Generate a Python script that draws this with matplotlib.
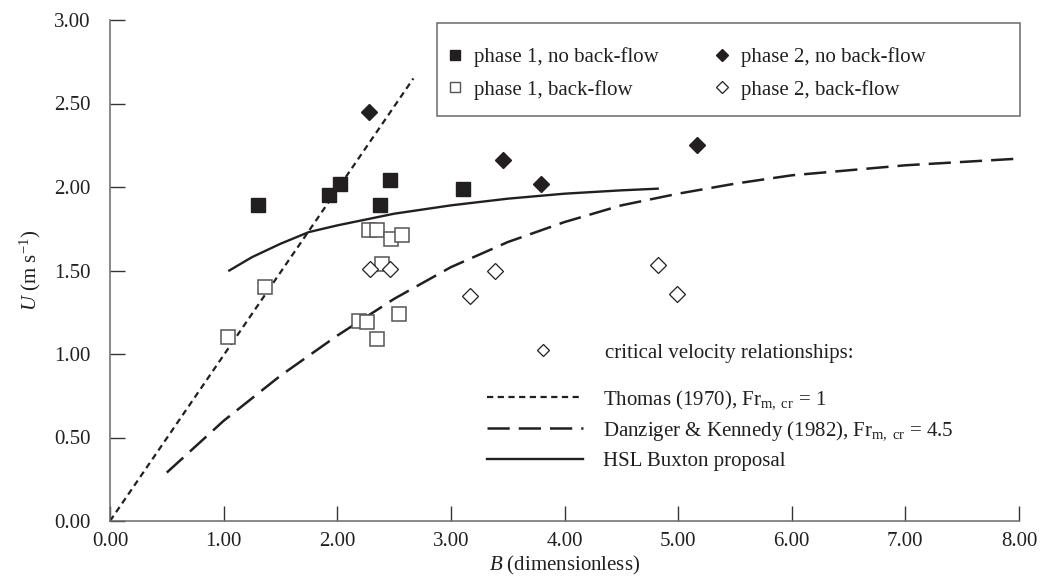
import matplotlib
matplotlib.use("Agg")
import matplotlib.pyplot as plt
from matplotlib.lines import Line2D
from matplotlib.patches import Rectangle

plt.rcParams['font.family'] = ['Liberation Serif', 'DejaVu Serif']
plt.rcParams['mathtext.fontset'] = 'custom'
plt.rcParams['mathtext.rm'] = 'Liberation Serif'
plt.rcParams['mathtext.it'] = 'Liberation Serif:italic'
plt.rcParams['lines.scale_dashes'] = False

# ---- data ----
p1_nobf_B = [1.30, 1.93, 2.02, 2.38, 2.46, 3.11]
p1_nobf_U = [1.89, 1.95, 2.02, 1.89, 2.04, 1.99]

p2_nobf_B = [2.28, 3.46, 3.79, 5.17]
p2_nobf_U = [2.45, 2.16, 2.02, 2.25]

p1_bf_B = [1.04, 1.36, 2.28, 2.35, 2.47, 2.57, 2.39, 2.19, 2.26, 2.54, 2.35]
p1_bf_U = [1.10, 1.40, 1.74, 1.74, 1.69, 1.71, 1.54, 1.20, 1.19, 1.24, 1.09]

p2_bf_B = [2.29, 2.46, 3.39, 3.17, 4.82, 4.99]
p2_bf_U = [1.51, 1.51, 1.50, 1.35, 1.53, 1.36]

thomas_B = [0.00, 2.67]
thomas_U = [0.00, 2.65]

dk_B = [0.50, 1.00, 1.50, 2.00, 2.50, 3.00, 3.50, 4.00, 4.50, 5.00, 5.50, 6.00, 6.50, 7.00, 7.50, 8.00]
dk_U = [0.29, 0.60, 0.87, 1.11, 1.33, 1.52, 1.67, 1.79, 1.89, 1.96, 2.02, 2.07, 2.10, 2.13, 2.15, 2.17]

hsl_B = [1.05, 1.25, 1.50, 1.75, 2.00, 2.50, 3.00, 3.50, 4.00, 4.50, 4.82]
hsl_U = [1.50, 1.58, 1.66, 1.73, 1.77, 1.84, 1.89, 1.93, 1.96, 1.98, 1.99]

xticks = [0, 1, 2, 3, 4, 5, 6, 7, 8]
yticks = [0, 0.5, 1.0, 1.5, 2.0, 2.5, 3.0]

# ---- figure ----
W, H = 1042, 580
fig = plt.figure(figsize=(W / 100, H / 100), dpi=100)
ax = fig.add_axes([110 / W, 1 - 521 / H, (1019 - 110) / W, (521 - 20) / H])

ink = '#231f20'
FS = 15

thomas_line, = ax.plot(thomas_B, thomas_U, color=ink, lw=1.6, dashes=(4.5, 3.2))
dk_line, = ax.plot(dk_B, dk_U, color=ink, lw=1.8, dashes=(16, 6.5))
hsl_line, = ax.plot(hsl_B, hsl_U, color=ink, lw=1.7)

ax.plot(p1_bf_B, p1_bf_U, ls='none', marker='s', ms=9.5, mfc='white', mec='#555555', mew=1.1)
ax.plot(p2_bf_B, p2_bf_U, ls='none', marker='D', ms=8, mfc='white', mec=ink, mew=0.9)
ax.plot(p1_nobf_B, p1_nobf_U, ls='none', marker='s', ms=9.5, mfc=ink, mec=ink)
ax.plot(p2_nobf_B, p2_nobf_U, ls='none', marker='D', ms=8.5, mfc=ink, mec=ink)

ax.set_xlim(0, 8)
ax.set_ylim(0, 3)
ax.set_xticks(xticks)
ax.set_yticks(yticks)
ax.set_xticklabels([f'{v:.2f}' for v in xticks])
ax.set_yticklabels([f'{v:.2f}' for v in yticks])
for s in ['top', 'right']:
    ax.spines[s].set_visible(False)
for s in ['left', 'bottom']:
    ax.spines[s].set_color('#6a6a6a')
    ax.spines[s].set_linewidth(1.1)
ax.tick_params(axis='both', direction='in', length=11, width=1.0, color='#333333',
               labelsize=FS, labelcolor=ink)
ax.tick_params(axis='y', pad=14)
ax.tick_params(axis='x', pad=8)
ax.set_xlabel(r'$B$ (dimensionless)', fontsize=FS, color=ink, labelpad=2)
ax.set_ylabel(r'$U$ (m s$^{-1}$)', fontsize=FS, color=ink, labelpad=8)

# ---- upper legend with frame ----
bx0, by0 = (437 - 110) / 909, (521 - 116) / 501
bx1, by1 = (1020 - 110) / 909, (521 - 23) / 501
ax.add_patch(Rectangle((bx0, by0), bx1 - bx0, by1 - by0, transform=ax.transAxes,
                       fill=False, ec='#6a6a6a', lw=1.1, zorder=5, clip_on=False))
h1 = Line2D([], [], ls='none', marker='s', ms=7, mfc=ink, mec=ink)
h2 = Line2D([], [], ls='none', marker='s', ms=7, mfc='white', mec='#555555', mew=1.0)
h3 = Line2D([], [], ls='none', marker='D', ms=6.5, mfc=ink, mec=ink)
h4 = Line2D([], [], ls='none', marker='D', ms=6.5, mfc='white', mec=ink, mew=0.9)
leg1 = ax.legend([h1, h2, h3, h4],
                 ['phase 1, no back-flow', 'phase 1, back-flow',
                  'phase 2, no back-flow', 'phase 2, back-flow'],
                 ncol=2, frameon=False, fontsize=FS, loc='upper left',
                 bbox_to_anchor=((447 - 110) / 909, (521 - 47) / 501),
                 borderaxespad=0, borderpad=0, handlelength=0.8, handletextpad=0.5,
                 columnspacing=2.63, labelspacing=0.62)
for t in leg1.get_texts():
    t.set_color(ink)
ax.add_artist(leg1)

# ---- lower legend: critical velocity relationships ----
hd = Line2D([], [], ls='none', marker='D', ms=6.5, mfc='white', mec=ink, mew=0.9)
leg2 = ax.legend([hd], ['critical velocity relationships:'], frameon=False, fontsize=FS,
                 loc='upper left', bbox_to_anchor=((497 - 110) / 909, (521 - 343) / 501),
                 borderaxespad=0, borderpad=0, handlelength=4.4, handletextpad=0.8)
for t in leg2.get_texts():
    t.set_color(ink)
ax.add_artist(leg2)

leg3 = ax.legend([thomas_line, dk_line, hsl_line],
                 [r'Thomas (1970), Fr$_{\mathrm{m,\ cr}}$ = 1',
                  r'Danziger & Kennedy (1982), Fr$_{\mathrm{m,\ cr}}$ = 4.5',
                  'HSL Buxton proposal'],
                 frameon=False, fontsize=FS, loc='upper left',
                 bbox_to_anchor=((487 - 110) / 909, (521 - 388) / 501),
                 borderaxespad=0, borderpad=0, handlelength=4.6, handletextpad=0.95,
                 labelspacing=0.42)
for t in leg3.get_texts():
    t.set_color(ink)

fig.savefig('out.png', dpi=100)
